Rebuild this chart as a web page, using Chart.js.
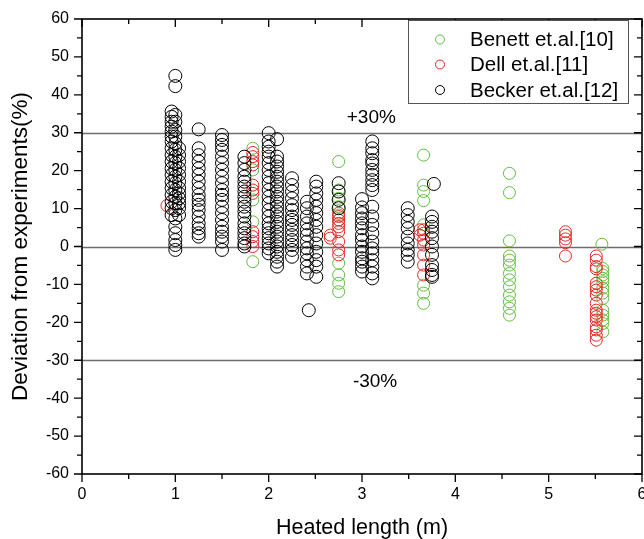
<!DOCTYPE html>
<html>
<head>
<meta charset="utf-8">
<script src="https://cdn.jsdelivr.net/npm/chart.js@4/dist/chart.umd.min.js"></script>
<style>
  html, body { margin: 0; padding: 0; background: #fff; }
  #wrap { width: 644px; height: 539px; }
</style>
</head>
<body>
<div id="wrap"><canvas id="c" width="644" height="539"></canvas></div>
<script>
// Heated length (m) of each measurement column, and the deviations (%) found there.
const benettLength = [1.83, 2.75, 3.66, 4.58, 5.57, 5.58];
const benettDeviation = [
  [25.9, 20.2, 12.3, 6.5, -4],
  [22.4, 14.9, 12.7, 10.5, 8.3, 7, -4.4, -7.5, -9.7, -11.9],
  [24.1, 16.2, 14.5, 12.1, 5.7, -10.2, -12.3, -15],
  [19.3, 14.2, 1.5, -2.5, -3.6, -4.9, -7.1, -8.8, -10.6, -12.8, -14.6, -16.3, -18.1],
  [0.6],
  [-5.8, -6.6, -7.5, -8.4, -9.3, -11, -12.3, -13.7, -16.8, -18.1, -19.4, -20.3, -22.5]
];

const dellLength = [0.91, 1.83, 2.66, 2.75, 3.62, 3.66, 5.18, 5.51];
const dellDeviation = [
  [10.8],
  [24.8, 23.7, 22.4, 21.5, 16.2, 14.9, 14, 3.9, 2.6, 1.3, 0],
  [3, 2.2],
  [8.8, 7.9, 7, 6.1, 5.2, 3.9, 1.3, -0.9, -2.2],
  [4.4, 3],
  [4.4, 3.5, 1.7, 0.4, -2.2, -4.9, -7.5],
  [3.9, 3, 2, 1, -2.5],
  [-2.5, -3.6, -5.3, -5.9, -9.7, -10.6, -11.5, -12.8, -15, -16.8, -17.6, -18.5, -19.4, -21.2, -22, -23.4, -24.7]
];

const beckerLength = [0.96, 1.00, 1.04, 1.25, 1.50, 1.74, 2.00, 2.09, 2.25, 2.41, 2.43, 2.51, 2.75, 3.00, 3.11, 3.49, 3.75, 3.77];
const beckerDeviation = [
  [35.6, 34.2, 32.9, 31.6, 30.3, 29, 27.7, 25.9, 24.1, 22.4, 20.6, 18.9, 17.1, 15.4, 13.6, 11.8, 10.1, 8.3],
  [45, 42.3, 34.7, 32.9, 30.7, 29, 27.2, 25.5, 23.7, 22, 20.2, 18.4, 16.7, 14.9, 13.1, 11.4, 9.6, 7.4, 5.2, 3.5, 1.7, 0.4, -0.9],
  [25.9, 24.1, 22.4, 20.6, 18.9, 17.1, 15.4, 14, 12.7, 11.4, 10.1, 8.3],
  [30.9, 25.9, 24.1, 22.4, 20.6, 18.9, 17.1, 15.4, 13.6, 12.3, 11, 9.6, 7.9, 6.1, 4.8, 3.5, 2.6],
  [29.4, 28.1, 26.8, 25.5, 23.7, 22, 20.2, 18.4, 16.7, 14.9, 13.6, 12.3, 10.5, 8.8, 7, 5.2, 3.9, 2.6, 1.3, -0.9],
  [23.7, 22, 20.2, 18.4, 17.1, 15.8, 14.5, 13.1, 11.8, 10.5, 9.2, 7.9, 6.1, 4.8, 3.5, 2.2, 0.8, 0],
  [29.9, 27.7, 26.3, 25, 23.7, 22, 20.2, 18.4, 16.7, 14.9, 13.1, 11.4, 9.6, 7.9, 6.1, 4.8, 3.5, 2.2, 0.8, -0.5, -1.8],
  [28.3, 23.7, 22.4, 21.1, 19.7, 18.4, 17.1, 15.8, 14.5, 13.1, 11.8, 10.5, 9.2, 7.9, 6.5, 5.2, 3.9, 2.6, 1.3, 0, -1.4, -2.7, -4, -5.3],
  [18, 16.2, 14.5, 12.7, 10.9, 9.6, 7.9, 7, 5.7, 4.4, 3, 1.7, 0.4, -0.9, -2.7],
  [11.8, 10.1, 7.9, 6.1, 4.4, 3, 1.3, -0.5, -1.8, -3.6, -5.3, -7.1],
  [-16.8],
  [17.1, 15.8, 14, 12.3, 10.5, 8.8, 7, 5.2, 3, 0.8, -1.4, -3.6, -5.3, -8],
  [16.7, 14.5, 12.3, 10.1],
  [12.5, 10.3, 8.8, 7.4, 6.1, 4.8, 3, 1.7, 0, -1.4, -3.1, -4, -5.3, -6.6],
  [27.7, 25.9, 24.6, 22.8, 21.9, 20.2, 18.9, 17.5, 16.2, 14.9, 10.5, 7.9, 5.7, 3.5, 1.3, -0.5, -1.8, -3.6, -5.3, -7.1, -8.4],
  [10.1, 8.3, 6.5, 4.8, 2.6, 0.8, -0.9, -2.2, -4],
  [7.9, 6.5, 5.2, 3.9, 2.2, 0, -2.2, -4.9, -6.2, -7.5, -8],
  [16.5]
];

const seriesLabels = ['Benett et.al.[10]', 'Dell et.al.[11]', 'Becker et.al.[12]'];
const bandLevels = [30, 0, -30];
const bandLabels = [
  { text: '+30%', x: 3.1, y: 33.9 },
  { text: '-30%', x: 3.14, y: -35.6 }
];

const FONT = '"Liberation Sans", Arial, Helvetica, sans-serif';

function toPoints(lengths, deviations) {
  const pts = [];
  lengths.forEach((x, i) => deviations[i].forEach(y => pts.push({ x, y })));
  return pts;
}

// Reference lines, the framed box with its ticks, band labels and the legend.
const framePlugin = {
  id: 'frame',
  beforeDatasetsDraw(chart) {
    const { ctx, chartArea: a, scales: { y } } = chart;
    ctx.save();
    ctx.strokeStyle = '#6e6e6e';
    ctx.lineWidth = 1.5;
    bandLevels.forEach(v => {
      const py = Math.round(y.getPixelForValue(v)) + 0.5;
      ctx.beginPath();
      ctx.moveTo(a.left, py);
      ctx.lineTo(a.right, py);
      ctx.stroke();
    });
    ctx.restore();
  },
  afterDraw(chart) {
    const { ctx, chartArea: a, scales: { x, y } } = chart;
    ctx.save();
    ctx.strokeStyle = '#000';
    ctx.lineWidth = 1.6;
    ctx.strokeRect(a.left, a.top, a.right - a.left, a.bottom - a.top);

    ctx.lineWidth = 1.3;
    ctx.beginPath();
    for (let v = -60; v <= 60; v += 5) {
      const py = y.getPixelForValue(v);
      const len = v % 10 === 0 ? 8 : 5;
      ctx.moveTo(a.left - len, py); ctx.lineTo(a.left, py);
      ctx.moveTo(a.right, py); ctx.lineTo(a.right - len, py);
    }
    for (let v = 0; v <= 6; v += 0.5) {
      const px = x.getPixelForValue(v);
      const len = Number.isInteger(v) ? 8 : 5;
      ctx.moveTo(px, a.bottom); ctx.lineTo(px, a.bottom + len);
      ctx.moveTo(px, a.top); ctx.lineTo(px, a.top + len);
    }
    ctx.stroke();

    ctx.fillStyle = '#000';
    ctx.font = '19px ' + FONT;
    ctx.textAlign = 'center';
    ctx.textBaseline = 'middle';
    bandLabels.forEach(l => ctx.fillText(l.text, x.getPixelForValue(l.x), y.getPixelForValue(l.y)));

    // legend
    const bx = 408.5, by = 20.5, bw = 220, bh = 83;
    ctx.fillStyle = '#fff';
    ctx.fillRect(bx, by, bw, bh);
    ctx.strokeStyle = '#555';
    ctx.lineWidth = 1;
    ctx.strokeRect(bx, by, bw, bh);
    ctx.font = '20.5px ' + FONT;
    ctx.textAlign = 'left';
    const rows = [39.5, 64.5, 90];
    chart.data.datasets.forEach((ds, i) => {
      ctx.beginPath();
      ctx.strokeStyle = ds.borderColor;
      ctx.arc(440, rows[i], 4.5, 0, Math.PI * 2);
      ctx.stroke();
      ctx.fillStyle = '#000';
      ctx.fillText(ds.label, 470, rows[i] + 1);
    });
    ctx.restore();
  }
};

new Chart(document.getElementById('c'), {
  type: 'scatter',
  data: {
    datasets: [
      {
        label: seriesLabels[0],
        data: toPoints(benettLength, benettDeviation),
        borderColor: 'rgb(96,190,64)',
        backgroundColor: 'rgba(0,0,0,0)',
        pointRadius: 6,
        pointBorderWidth: 1,
        order: 3
      },
      {
        label: seriesLabels[1],
        data: toPoints(dellLength, dellDeviation),
        borderColor: 'rgb(236,38,38)',
        backgroundColor: 'rgba(0,0,0,0)',
        pointRadius: 6,
        pointBorderWidth: 1,
        order: 2
      },
      {
        label: seriesLabels[2],
        data: toPoints(beckerLength, beckerDeviation),
        borderColor: '#000',
        backgroundColor: 'rgba(0,0,0,0)',
        pointRadius: 6.5,
        pointBorderWidth: 1,
        order: 1
      }
    ]
  },
  options: {
    responsive: false,
    animation: false,
    devicePixelRatio: 1,
    layout: { autoPadding: false, padding: { top: 19, right: 2, left: 0, bottom: 0 } },
    plugins: { legend: { display: false }, tooltip: { enabled: false } },
    scales: {
      x: {
        type: 'linear',
        min: 0, max: 6,
        grid: { display: false, drawTicks: false },
        border: { display: false },
        ticks: { stepSize: 1, padding: 11, color: '#000', font: { family: FONT, size: 16 } },
        title: { display: true, text: 'Heated length (m)', color: '#000', font: { family: FONT, size: 21.5 }, padding: { top: 0, bottom: -2 } },
        afterFit(s) { s.height = 65; s.paddingLeft = 0; s.paddingRight = 0; }
      },
      y: {
        type: 'linear',
        min: -60, max: 60,
        grid: { display: false, drawTicks: false },
        border: { display: false },
        ticks: { stepSize: 10, padding: 13, color: '#000', font: { family: FONT, size: 16 } },
        title: { display: true, text: 'Deviation from experiments(%)', color: '#000', font: { family: FONT, size: 22.5 }, padding: { top: 7, bottom: 0 } },
        afterFit(s) { s.width = 82; s.paddingTop = 0; s.paddingBottom = 0; }
      }
    }
  },
  plugins: [framePlugin]
});
</script>
</body>
</html>
